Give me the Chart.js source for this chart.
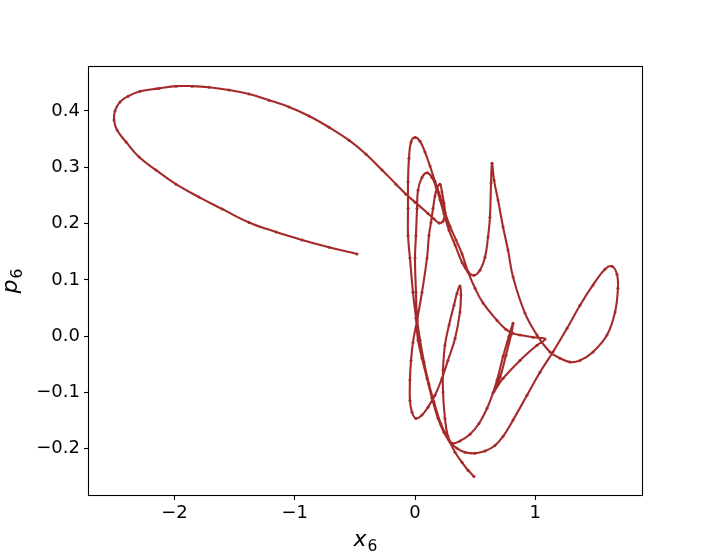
<!DOCTYPE html>
<html>
<head>
<meta charset="utf-8">
<script src="https://cdn.jsdelivr.net/npm/chart.js@4"></script>
<style>
html,body{margin:0;padding:0;background:#fff}
canvas{display:block}
</style>
</head>
<body>
<canvas id="c" width="713" height="556"></canvas>
<script>
// trajectory x6 / p6
var X6 = [
 -0.482,-0.715,-0.939,-1.155,-1.380,-1.604,-1.796,-1.987,-2.153,-2.294,
 -2.402,-2.477,-2.502,-2.494,-2.452,-2.386,-2.286,-2.128,-1.987,-1.854,
 -1.712,-1.546,-1.380,-1.214,-1.047,-0.881,-0.715,-0.549,-0.407,-0.274,
 -0.158,-0.075,0.000,0.108,0.158,0.200,0.233,0.249,0.241,0.224,
 0.208,0.183,0.166,0.150,0.133,0.116,0.100,0.058,0.017,-0.017,
 -0.033,-0.042,-0.042,-0.025,0.008,0.058,0.108,0.166,0.224,0.274,
 0.333,0.374,0.382,0.374,0.349,0.324,0.283,0.249,0.233,0.233,
 0.249,0.274,0.308,0.374,0.457,0.532,0.599,0.648,0.682,0.732,
 0.781,0.815,0.798,0.756,0.707,0.657,0.732,0.873,1.014,1.081,
 0.981,0.873,0.815,0.756,0.682,0.565,0.499,0.441,0.391,0.341,
 0.291,0.249,0.208,0.166,0.125,0.083,0.042,0.000,-0.033,-0.050,
 -0.058,-0.058,-0.058,-0.042,-0.017,0.008,0.025,0.058,0.100,0.141,
 0.191,0.241,0.291,0.349,0.416,0.499,0.582,0.665,0.732,0.815,
 0.931,1.039,1.147,1.264,1.372,1.480,1.579,1.638,1.679,1.687,
 1.663,1.596,1.480,1.372,1.288,1.205,1.122,1.014,0.914,0.815,
 0.773,0.732,0.690,0.657,0.640,0.632,0.623,0.607,0.582,0.540,
 0.490,0.441,0.391,0.333,0.283,0.241,0.208,0.175,0.141,0.100,
 0.058,0.025,0.017,0.008,0.000,0.008,0.017,0.042,0.075,0.116,
 0.158,0.216,0.283,0.333,0.391,0.441,0.490
];
var P6 = [
 0.146,0.158,0.171,0.185,0.202,0.226,0.247,0.270,0.295,0.318,
 0.345,0.366,0.384,0.400,0.416,0.426,0.435,0.440,0.444,0.444,
 0.442,0.437,0.430,0.419,0.407,0.391,0.371,0.348,0.323,0.295,
 0.270,0.252,0.238,0.218,0.208,0.201,0.204,0.219,0.236,0.256,
 0.270,0.263,0.249,0.227,0.202,0.179,0.139,0.078,0.028,-0.011,
 -0.043,-0.078,-0.114,-0.135,-0.146,-0.140,-0.126,-0.105,-0.075,-0.043,
 -0.004,0.043,0.073,0.089,0.076,0.055,0.020,-0.016,-0.060,-0.099,
 -0.146,-0.178,-0.190,-0.186,-0.174,-0.155,-0.128,-0.101,-0.078,-0.036,
 0.000,0.023,0.002,-0.034,-0.073,-0.098,-0.075,-0.043,-0.016,-0.005,
 -0.002,0.002,0.005,0.012,0.028,0.059,0.085,0.114,0.146,0.171,
 0.195,0.220,0.249,0.275,0.302,0.327,0.346,0.353,0.345,0.316,
 0.274,0.227,0.179,0.139,0.078,0.032,-0.007,-0.039,-0.075,-0.110,
 -0.146,-0.171,-0.188,-0.199,-0.206,-0.208,-0.204,-0.194,-0.178,-0.149,
 -0.105,-0.064,-0.028,0.014,0.055,0.091,0.119,0.124,0.110,0.085,
 0.043,0.002,-0.028,-0.043,-0.046,-0.039,-0.028,0.002,0.041,0.105,
 0.153,0.194,0.242,0.277,0.307,0.272,0.211,0.176,0.140,0.117,
 0.108,0.114,0.131,0.162,0.188,0.217,0.242,0.265,0.282,0.290,
 0.282,0.259,0.227,0.179,0.139,0.078,0.032,-0.007,-0.046,-0.085,
 -0.117,-0.156,-0.185,-0.206,-0.224,-0.238,-0.249
];
var X_TICKS = [-2, -1, 0, 1];
var Y_TICKS = [-0.2, -0.1, 0.0, 0.1, 0.2, 0.3, 0.4];
var X_LABEL = ['x', '6'];
var Y_LABEL = ['p', '6'];

var COL = '#a52a2a';
var FONT = "'DejaVu Sans', sans-serif";

function mfmt(s){ return s.replace('-', '\u2212'); }

// frame + mathtext-ish axis labels
var decor = {
  id: 'decor',
  afterDraw: function(chart){
    var ctx = chart.ctx, a = chart.chartArea;
    ctx.save();
    ctx.strokeStyle = '#000'; ctx.lineWidth = 1.1;
    ctx.strokeRect(Math.round(a.left) - 0.5, Math.round(a.top) - 0.5,
                   Math.round(a.right - a.left) + 1, Math.round(a.bottom - a.top) + 1);
    ctx.fillStyle = '#000';
    ctx.textBaseline = 'alphabetic';
    ctx.textAlign = 'left';
    function lab(parts, cx, by){
      ctx.font = 'italic 22px ' + FONT;
      var w1 = ctx.measureText(parts[0]).width;
      ctx.font = '15.5px ' + FONT;
      var w2 = ctx.measureText(parts[1]).width;
      var sx = cx - (w1 + w2 + 1) / 2;
      ctx.font = 'italic 22px ' + FONT;
      ctx.fillText(parts[0], sx, by);
      ctx.font = '15.5px ' + FONT;
      ctx.fillText(parts[1], sx + w1 + 1, by + 5);
    }
    lab(X_LABEL, (a.left + a.right) / 2, 546);
    ctx.translate(17, (a.top + a.bottom) / 2);
    ctx.rotate(-Math.PI / 2);
    lab(Y_LABEL, 0, 0);
    ctx.restore();
  }
};

var pts = X6.map(function(v, i){ return {x: v, y: P6[i]}; });

new Chart(document.getElementById('c').getContext('2d'), {
  type: 'scatter',
  data: {datasets: [{
    data: pts, showLine: true, borderColor: COL, borderWidth: 2.1,
    pointRadius: 1.5, pointBorderWidth: 0, pointBackgroundColor: COL,
    tension: 0.4, fill: false
  }]},
  options: {
    responsive: false, animation: false, devicePixelRatio: 1,
    layout: {padding: {top: 67, right: 71, left: 0, bottom: 0}},
    plugins: {legend: {display: false}, tooltip: {enabled: false}},
    scales: {
      x: {
        type: 'linear', min: -2.71, max: 1.887,
        afterBuildTicks: function(s){ s.ticks = X_TICKS.map(function(v){ return {value: v}; }); },
        afterFit: function(s){ s.height = 61; },
        grid: {drawOnChartArea: false, drawTicks: true, tickLength: 5, tickColor: '#000', tickWidth: 1.1},
        border: {display: false},
        ticks: {color: '#000', padding: 3, maxRotation: 0, font: {family: FONT, size: 18},
          callback: function(v){ return mfmt(String(v)); }}
      },
      y: {
        type: 'linear', min: -0.282, max: 0.478,
        afterBuildTicks: function(s){ s.ticks = Y_TICKS.map(function(v){ return {value: v}; }); },
        afterFit: function(s){ s.width = 89; },
        grid: {drawOnChartArea: false, drawTicks: true, tickLength: 5, tickColor: '#000', tickWidth: 1.1},
        border: {display: false},
        ticks: {color: '#000', padding: 4, font: {family: FONT, size: 18},
          callback: function(v){ return mfmt(v.toFixed(1)); }}
      }
    }
  },
  plugins: [decor]
});
</script>
</body>
</html>
